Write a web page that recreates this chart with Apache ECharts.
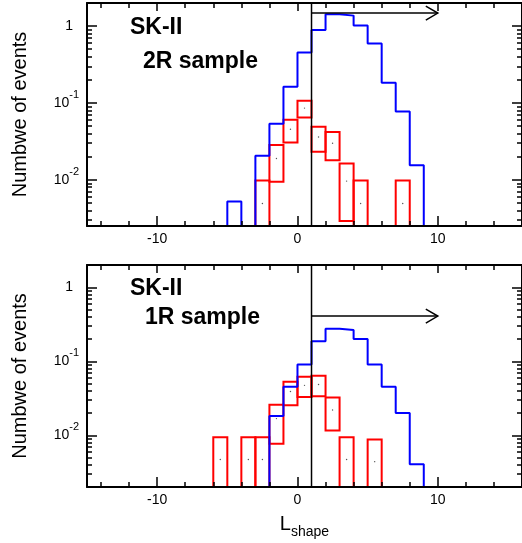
<!DOCTYPE html>
<html><head><meta charset="utf-8">
<script src="https://cdn.jsdelivr.net/npm/echarts@6/dist/echarts.min.js"></script>
<style>html,body{margin:0;padding:0;background:#fff}#c{width:522px;height:543px}</style>
</head><body><div id="c"></div>
<script>
// ---------- data ----------
const X_MIN = -15, X_MAX = 16;
const X_LABELS = [-10, 0, 10];
const X_MINOR = [-14, -12, -8, -6, -4, -2, 2, 4, 6, 8, 12, 14];
const BIN_WIDTH = 1;

const panelTitle = ['SK-II', 'SK-II'];
const panelSample = ['2R sample', '1R sample'];
const yTitle = 'Numbwe of events';
const xTitleMain = 'L';
const xTitleSub = 'shape';

const yRange2R = [0.0025, 2];
const yRange1R = [0.002, 2];

const cutValue = 1;
const arrowEnd = 10;
const arrowLevel2R = 1.48;
const arrowLevel1R = 0.408;

// 2R sample (top)
const blue2R_bins = [-5, -4, -3, -2, -1, 0, 1, 2, 3, 4, 5, 6, 7, 8];
const blue2R_vals = [0.0052, 0, 0.0205, 0.0535, 0.162, 0.453, 0.887, 1.43, 1.37, 1.02, 0.594, 0.183, 0.0774, 0.0155];
const red2R_bins = [-3, -2, -1, 0, 1, 2, 3, 4, 7];
const red2R_vals = [0.0049, 0.0189, 0.0455, 0.0857, 0.0361, 0.0299, 0.0096, 0.0049, 0.0049];
const red2R_errs = [0.0049, 0.0095, 0.0149, 0.0210, 0.0130, 0.0119, 0.0067, 0.0049, 0.0049];

// 1R sample (bottom)
const blue1R_bins = [-2, -1, 0, 1, 2, 3, 4, 5, 6, 7, 8];
const blue1R_vals = [0.0182, 0.0451, 0.0906, 0.187, 0.275, 0.264, 0.200, 0.0906, 0.0451, 0.0200, 0.00405];
const red1R_bins = [-6, -4, -3, -2, -1, 0, 1, 2, 3, 5];
const red1R_vals = [0.0047, 0.0047, 0.0047, 0.0168, 0.0391, 0.0473, 0.0486, 0.0220, 0.0047, 0.0044];
const red1R_errs = [0.0047, 0.0047, 0.0047, 0.0091, 0.0136, 0.0143, 0.0149, 0.0104, 0.0047, 0.0044];

// ---------- styling / building ----------
const FONT = '"Liberation Sans", Arial, Helvetica, sans-serif';
const AX = '#000';
const BLUE = '#0000ff', RED = '#ff0000';

const grids = [
  {left: 87, top: 3, width: 438, height: 223},
  {left: 87, top: 265, width: 438, height: 222}
];

function xAxes(gi, withName) {
  const base = {type: 'value', gridIndex: gi, min: X_MIN, max: X_MAX, splitLine: {show: false}, z: 10};
  const line = {show: true, onZero: false, lineStyle: {color: AX, width: 2}};
  const noLine = {show: false, onZero: false};
  const tl = {color: AX, width: 1.5};
  const main = Object.assign({}, base, {
    position: 'bottom', axisLine: line,
    axisTick: {show: true, inside: true, length: 10, customValues: X_LABELS, lineStyle: tl},
    axisLabel: {show: true, customValues: X_LABELS, margin: 6, fontSize: 14, color: AX, fontFamily: FONT}
  });
  if (withName) {
    main.name = '{L|' + xTitleMain + '}{s|' + xTitleSub + '}';
    main.nameLocation = 'middle';
    main.nameGap = 22;
    main.nameTextStyle = {
      color: AX, fontFamily: FONT, fontSize: 20,
      rich: {
        L: {fontSize: 20, color: AX, fontFamily: FONT},
        s: {fontSize: 14, color: AX, fontFamily: FONT, padding: [16, 0, 0, 0]}
      }
    };
  }
  return [
    main,
    Object.assign({}, base, {position: 'bottom', axisLine: noLine,
      axisTick: {show: true, inside: true, length: 5, customValues: X_MINOR, lineStyle: tl}, axisLabel: {show: false}}),
    Object.assign({}, base, {position: 'top', axisLine: line,
      axisTick: {show: true, inside: true, length: 8, customValues: X_LABELS, lineStyle: tl}, axisLabel: {show: false}}),
    Object.assign({}, base, {position: 'top', axisLine: noLine,
      axisTick: {show: true, inside: true, length: 5, customValues: X_MINOR, lineStyle: tl}, axisLabel: {show: false}})
  ];
}

function yAxes(gi, range) {
  const lmin = Math.log10(range[0]), lmax = Math.log10(range[1]);
  const major = [], minor = [];
  for (let n = -4; n <= 1; n++) {
    if (n >= lmin - 1e-9 && n <= lmax + 1e-9) major.push(n);
    for (let k = 2; k <= 9; k++) {
      const v = n + Math.log10(k);
      if (v > lmin + 1e-9 && v <= lmax + 1e-9) minor.push(v);
    }
  }
  const base = {type: 'value', gridIndex: gi, min: lmin, max: lmax, splitLine: {show: false}, z: 10};
  const line = {show: true, onZero: false, lineStyle: {color: AX, width: 2}};
  const noLine = {show: false, onZero: false};
  const tl = {color: AX, width: 1.5};
  return [
    {type: 'log', logBase: 10, gridIndex: gi, min: range[0], max: range[1], show: false},
    Object.assign({}, base, {
      position: 'left', axisLine: line,
      axisTick: {show: true, inside: true, length: 10, customValues: major, lineStyle: tl},
      axisLabel: {
        show: true, customValues: major, margin: 8,
        formatter: function (v) {
          const n = Math.round(v);
          return n === 0 ? '{b|1}{p| }' : '{b|10}{s|' + n + '}';
        },
        rich: {
          b: {fontSize: 14, color: AX, fontFamily: FONT},
          s: {fontSize: 11, color: AX, fontFamily: FONT, padding: [0, 0, 16, 0]},
          p: {width: 6, fontSize: 14}
        }
      },
      name: yTitle, nameLocation: 'middle', nameGap: 57,
      nameTextStyle: {fontSize: 20, color: AX, fontFamily: FONT}
    }),
    Object.assign({}, base, {position: 'left', axisLine: noLine,
      axisTick: {show: true, inside: true, length: 5, customValues: minor, lineStyle: tl}, axisLabel: {show: false}}),
    Object.assign({}, base, {position: 'right', axisLine: line,
      axisTick: {show: true, inside: true, length: 10, customValues: major, lineStyle: tl}, axisLabel: {show: false}}),
    Object.assign({}, base, {position: 'right', axisLine: noLine,
      axisTick: {show: true, inside: true, length: 5, customValues: minor, lineStyle: tl}, axisLabel: {show: false}})
  ];
}

function stepData(bins, vals, floor) {
  const pts = [[bins[0], floor]];
  bins.forEach(function (b, i) { pts.push([b, vals[i] > 0 ? vals[i] : floor]); });
  const lastEdge = bins[bins.length - 1] + BIN_WIDTH;
  const lastVal = vals[vals.length - 1];
  pts.push([lastEdge, lastVal > 0 ? lastVal : floor]);
  pts.push([lastEdge, floor]);
  return pts;
}

function blueSeries(gi, bins, vals, range) {
  return {
    type: 'line', xAxisIndex: 4 * gi, yAxisIndex: 5 * gi, step: 'end',
    data: stepData(bins, vals, range[0] / 100),
    symbol: 'none', clip: true, z: 4, animation: false,
    lineStyle: {color: BLUE, width: 2}
  };
}

function redSeries(gi, bins, vals, errs) {
  return {
    type: 'custom', xAxisIndex: 4 * gi, yAxisIndex: 5 * gi, z: 3, animation: false,
    data: bins.map(function (b, i) { return [b, vals[i], errs[i]]; }),
    encode: {x: 0, y: 1},
    renderItem: function (params, api) {
      const x0 = api.value(0), v = api.value(1), e = api.value(2);
      const cs = params.coordSys;
      const bottomPx = cs.y + cs.height;
      const pHi = api.coord([x0, v + e]);
      const lo = v - e;
      const xr = api.coord([x0 + BIN_WIDTH, v])[0];
      let yLo = lo > v * 1e-3 ? api.coord([x0, lo])[1] : bottomPx;
      if (yLo > bottomPx) yLo = bottomPx;
      const c = api.coord([x0 + BIN_WIDTH / 2, v]);
      return {
        type: 'group', children: [
          {type: 'rect', shape: {x: pHi[0], y: pHi[1], width: xr - pHi[0], height: yLo - pHi[1]},
            style: {stroke: RED, fill: null, lineWidth: 2}},
          {type: 'circle', shape: {cx: c[0], cy: c[1], r: 0.7}, style: {fill: '#555'}}
        ]
      };
    }
  };
}

function markerSeries(gi, level) {
  return {
    type: 'custom', xAxisIndex: 4 * gi, yAxisIndex: 5 * gi, z: 6, animation: false,
    data: [[cutValue, level, arrowEnd]],
    encode: {x: 0, y: 1},
    renderItem: function (params, api) {
      const cs = params.coordSys;
      const a = api.coord([api.value(0), api.value(1)]);
      const b = api.coord([api.value(2), api.value(1)]);
      const st = {stroke: '#000', fill: null, lineWidth: 1.5};
      return {
        type: 'group', children: [
          {type: 'line', shape: {x1: a[0], y1: cs.y, x2: a[0], y2: cs.y + cs.height}, style: st},
          {type: 'line', shape: {x1: a[0], y1: a[1], x2: b[0], y2: b[1]}, style: st},
          {type: 'polyline', shape: {points: [[b[0] - 12, b[1] - 7], [b[0], b[1]], [b[0] - 12, b[1] + 7]]}, style: st}
        ]
      };
    }
  };
}

const titleFont = 'bold 23px ' + FONT;
const option = {
  animation: false,
  backgroundColor: '#fff',
  textStyle: {fontFamily: FONT},
  grid: grids,
  xAxis: xAxes(0, false).concat(xAxes(1, true)),
  yAxis: yAxes(0, yRange2R).concat(yAxes(1, yRange1R)),
  series: [
    redSeries(0, red2R_bins, red2R_vals, red2R_errs),
    blueSeries(0, blue2R_bins, blue2R_vals, yRange2R),
    markerSeries(0, arrowLevel2R),
    redSeries(1, red1R_bins, red1R_vals, red1R_errs),
    blueSeries(1, blue1R_bins, blue1R_vals, yRange1R),
    markerSeries(1, arrowLevel1R)
  ],
  graphic: [
    {type: 'text', x: 130, y: 16, z: 20, style: {text: panelTitle[0], font: titleFont, fill: '#000', verticalAlign: 'top'}},
    {type: 'text', x: 143, y: 50, z: 20, style: {text: panelSample[0], font: titleFont, fill: '#000', verticalAlign: 'top'}},
    {type: 'text', x: 130, y: 277, z: 20, style: {text: panelTitle[1], font: titleFont, fill: '#000', verticalAlign: 'top'}},
    {type: 'text', x: 145, y: 306, z: 20, style: {text: panelSample[1], font: titleFont, fill: '#000', verticalAlign: 'top'}}
  ]
};

const chart = echarts.init(document.getElementById('c'), null, {renderer: 'canvas'});
chart.setOption(option);
</script>
</body></html>
